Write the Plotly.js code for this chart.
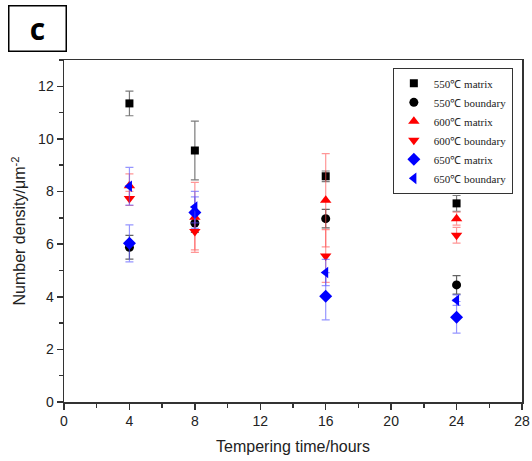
<!DOCTYPE html>
<html><head><meta charset="utf-8">
<script src="https://cdn.plot.ly/plotly-3.0.1.min.js"></script>
<style>body{margin:0;background:#fff}#chart{width:532px;height:461px}</style>
</head><body><div id="chart"></div>
<script>
const times = [4, 8, 16, 24];
const m550 = [11.35, 9.56, 8.58, 7.55];
const m550err = [0.47, 1.12, 0.2, 0.3];
const b550 = [5.88, 6.8, 6.97, 4.45];
const b550err = [0.45, 0.35, 0.35, 0.35];
const m600 = [8.22, 7.02, 7.67, 6.97];
const m600err = [0.45, 1.33, 1.77, 0.25];
const b600 = [7.74, 6.48, 5.55, 6.34];
const b600err = [0.27, 0.7, 1.0, 0.3];
const m650 = [6.03, 7.2, 4.02, 3.22];
const m650err = [0.7, 0.6, 0.9, 0.6];
const b650 = [8.2, 7.41, 4.92, 3.87];
const b650err = [0.72, 0.6, 0.5, 0.2];
const names = ["550℃ matrix","550℃ boundary","600℃ matrix","600℃ boundary","650℃ matrix","650℃ boundary"];

function tr(name, y, err, color, ecolor, symbol, size){
  return {x: times, y: y, name: name, type:'scatter', mode:'markers',
    marker:{color: color, symbol: symbol, size: size},
    error_y:{type:'data', array: err, visible:true, color: ecolor, thickness:1.2, width:4}};
}
const data = [
  tr(names[0], m550, m550err, '#000000', 'rgba(90,90,90,0.8)', 'square', 8),
  tr(names[1], b550, b550err, '#000000', 'rgba(60,60,60,0.8)', 'circle', 9),
  tr(names[2], m600, m600err, '#ff0000', 'rgba(255,80,80,0.6)', 'triangle-up', 10),
  tr(names[3], b600, b600err, '#ff0000', 'rgba(255,80,80,0.6)', 'triangle-down', 10),
  tr(names[4], m650, m650err, '#0000ff', 'rgba(80,80,255,0.6)', 'diamond', 10),
  tr(names[5], b650, b650err, '#0000ff', 'rgba(80,80,255,0.6)', 'triangle-left', 10)
];
const axisCommon = {showline:true, mirror:true, linecolor:'#333', linewidth:1.5, ticks:'outside',
  tickcolor:'#333', tickwidth:1.5, ticklen:6, showgrid:false, zeroline:false,
  tickfont:{family:'Liberation Sans, Arial', size:14, color:'#222'}};
const layout = {
  width:532, height:461, margin:{l:64, r:10, t:60, b:59},
  paper_bgcolor:'#fff', plot_bgcolor:'#fff', showlegend:true,
  xaxis: Object.assign({}, axisCommon, {range:[0,28], tickmode:'array', tickvals:[0,4,8,12,16,20,24,28],
    minor:{dtick:2, ticks:'outside', ticklen:4, tickcolor:'#333', tickwidth:1.5, showgrid:false},
    title:{text:'Tempering time/hours', font:{family:'Liberation Sans, Arial', size:16, color:'#222'}, standoff:12}}),
  yaxis: Object.assign({}, axisCommon, {range:[0,13], tickvals:[0,2,4,6,8,10,12],
    minor:{dtick:1, ticks:'outside', ticklen:4, tickcolor:'#333', tickwidth:1.5, showgrid:false},
    title:{text:'Number density/μm<sup>-2</sup>', font:{family:'Liberation Sans, Arial', size:16, color:'#222'}, standoff:8}}),
  legend:{x:0.718, y:0.977, xanchor:'left', yanchor:'top', bordercolor:'#333', borderwidth:1,
    bgcolor:'#fff', font:{family:'Liberation Serif, Times New Roman', size:11, color:'#222'},
    tracegroupgap:0, itemwidth:30},
  annotations:[{text:'<b>c</b>', xref:'paper', yref:'paper', x:-0.122, y:1.161, xanchor:'left', yanchor:'top',
    showarrow:false, font:{family:'Open Sans, Arial', size:30, color:'#000'}, bordercolor:'#000', borderwidth:1.5,
    width:54, height:42, bgcolor:'#fff'}]
};
Plotly.newPlot('chart', data, layout, {displayModeBar:false, staticPlot:true});
</script></body></html>
